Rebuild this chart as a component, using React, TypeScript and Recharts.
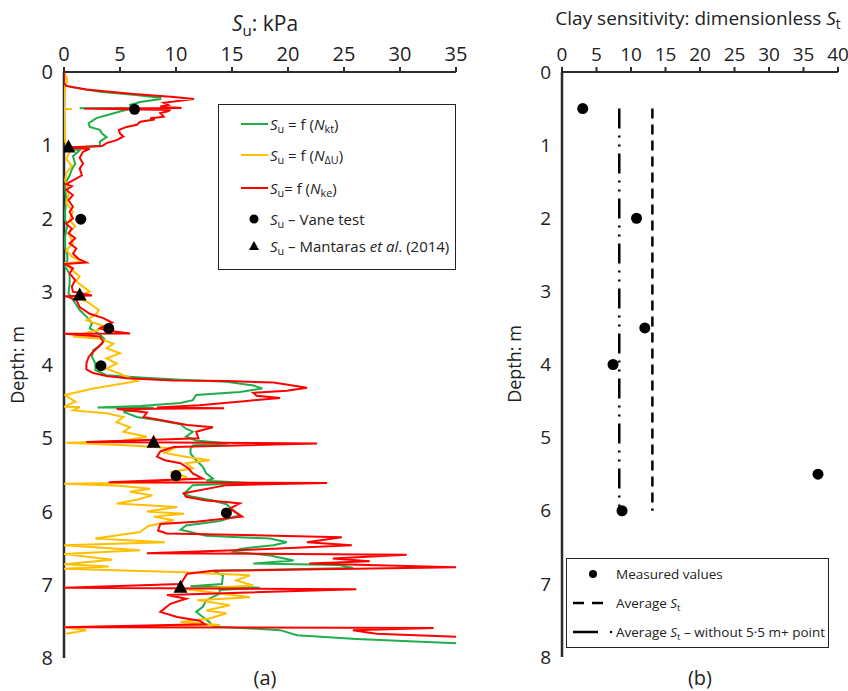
import React from 'react';
import { ScatterChart, Scatter, XAxis, YAxis } from 'recharts';

const FONT = "'Open Sans', 'Noto Sans', sans-serif";

// Profiles: [depth (m), Su (kPa)]
const suNkt: [number, number][] = [
  [0.18,0],[0.21,0.8],[0.27,3.2],[0.31,6.2],[0.35,8.6],[0.37,8.6],[0.41,6.8],[0.45,5.9],[0.49,6.0],[0.495,1.4],[0.5,6.0],[0.54,5.0],[0.59,3.8],[0.63,2.9],[0.7,2.2],[0.75,2.3],[0.79,3.2],[0.84,3.4],[0.89,3.8],[0.95,3.2],[1.01,3.2],[1.04,0.1],[1.07,1.4],[1.15,0.8],[1.25,1.0],[1.33,0.7],[1.41,0.5],[1.5,0.2],[1.57,0.1],[1.75,0.2],[1.9,0.1],[2.02,0.1],[2.1,0.3],[2.16,0.2],[2.25,0.1],[2.39,0.1],[2.5,0.3],[2.57,0.3],[2.66,0.1],[2.75,0.5],[2.89,0.5],[3.02,0.4],[3.11,0.8],[3.25,1.4],[3.34,2.0],[3.43,2.5],[3.5,2.3],[3.57,3.1],[3.64,3.6],[3.71,3.4],[3.8,2.6],[3.89,2.5],[3.98,2.8],[4.07,2.8],[4.14,3.8],[4.17,6.8],[4.2,10.4],[4.23,14.5],[4.28,16.9],[4.32,17.7],[4.37,15.7],[4.41,11.8],[4.48,11.5],[4.52,10.4],[4.56,6.8],[4.58,3.0],[4.585,8.0],[4.64,5.3],[4.71,6.5],[4.75,8.3],[4.81,10.4],[4.87,10.9],[4.91,11.5],[4.98,10.9],[5.03,11.8],[5.07,14.7],[5.1,11.5],[5.14,11.3],[5.21,11.3],[5.3,11.8],[5.39,12.4],[5.48,12.7],[5.55,13.3],[5.58,12.7],[5.61,16.6],[5.64,11.5],[5.76,10.7],[5.8,11.5],[5.85,13.3],[5.9,14.5],[5.98,15.1],[6.05,15.7],[6.13,13.9],[6.19,10.9],[6.25,10.4],[6.33,12.7],[6.37,18.4],[6.42,19.9],[6.46,18.7],[6.51,15.7],[6.55,15.1],[6.6,18.4],[6.67,20.5],[6.71,16.9],[6.73,24.6],[6.77,25.8],[6.81,13.3],[6.87,14.2],[6.99,14.1],[7.02,11.3],[7.04,17.5],[7.07,13.9],[7.12,13.9],[7.21,12.7],[7.3,12.4],[7.37,11.8],[7.44,12.4],[7.51,13.0],[7.57,13.3],[7.6,17.2],[7.62,19.3],[7.69,20.8],[7.74,26.1],[7.8,35],
];

const suNdu: [number, number][] = [
  [0.02,0],[0.06,0.2],[0.12,0.3],[0.2,0.1],[0.3,0.05],[0.45,0],[0.5,0],[0.505,0.7],[0.51,0],[0.7,0.05],[0.95,0.1],[1.05,0.4],[1.09,0.5],[1.19,0.2],[1.28,0.7],[1.38,0.2],[1.48,0.1],[1.58,0.3],[1.68,0.4],[1.79,0.2],[1.91,0.8],[2.02,0.5],[2.11,1.0],[2.2,0.4],[2.34,0.8],[2.43,0.2],[2.52,0.7],[2.59,1.7],[2.61,0.1],[2.7,0.7],[2.79,1.4],[2.86,1.1],[2.93,1.7],[3.0,2.3],[3.07,1.1],[3.16,2.3],[3.25,3.1],[3.3,2.9],[3.39,2.0],[3.46,3.4],[3.52,3.1],[3.61,0.8],[3.64,3.2],[3.71,4.4],[3.77,3.8],[3.84,5.0],[3.91,3.8],[3.98,4.7],[4.05,3.8],[4.12,5.0],[4.22,6.5],[4.32,2.6],[4.41,0.1],[4.5,1.0],[4.57,0],[4.575,1.4],[4.62,0.8],[4.66,3.8],[4.71,5.3],[4.78,4.7],[4.85,5.9],[4.91,5.3],[4.98,7.4],[5.04,5.0],[5.06,0.2],[5.1,6.0],[5.14,9.8],[5.2,9.0],[5.25,10.7],[5.3,13.0],[5.34,10.9],[5.41,11.5],[5.46,9.5],[5.53,10.9],[5.6,10.0],[5.62,0],[5.65,5.0],[5.69,7.7],[5.73,5.9],[5.78,7.9],[5.84,6.5],[5.89,4.7],[5.94,10.1],[6.0,7.4],[6.03,10.7],[6.07,8.0],[6.12,9.8],[6.2,7.5],[6.28,6.8],[6.37,2.8],[6.42,9.0],[6.46,0],[6.53,6.8],[6.58,0],[6.66,4.3],[6.72,0],[6.75,4.0],[6.78,0],[6.83,10.7],[6.87,16.6],[6.94,15.4],[7.01,16.9],[7.06,10.9],[7.12,14.0],[7.17,16.6],[7.21,11.9],[7.28,14.8],[7.35,12.7],[7.39,14.5],[7.46,13.0],[7.51,10.4],[7.55,13.9],[7.58,0],[7.62,2.0],[7.67,0.2],
];

const suNke: [number, number][] = [
  [0,0],[0.15,0],[0.19,0.2],[0.24,2.0],[0.3,6.2],[0.34,9.8],[0.37,11.6],[0.42,8.9],[0.45,9.3],[0.47,8.6],[0.49,10.5],[0.5,1.8],[0.52,9.5],[0.54,9.2],[0.56,8.6],[0.61,8.9],[0.63,7.7],[0.65,8.1],[0.68,6.8],[0.72,6.5],[0.75,5.6],[0.79,4.9],[0.84,5.0],[0.88,5.3],[0.93,4.7],[0.97,3.8],[1.01,3.4],[1.03,0.1],[1.05,2.3],[1.09,1.7],[1.17,1.4],[1.25,1.7],[1.32,1.4],[1.41,1.6],[1.48,0.8],[1.53,0.2],[1.56,0.7],[1.61,0.2],[1.68,0.8],[1.75,0.4],[1.84,0.8],[1.91,0.5],[2.0,0.8],[2.07,0.2],[2.14,0.7],[2.2,0.4],[2.27,1.0],[2.34,0.5],[2.41,1.1],[2.48,0.8],[2.55,1.3],[2.6,2.0],[2.62,0.1],[2.68,0.8],[2.75,0.5],[2.84,1.0],[2.93,0.7],[3.0,0.8],[3.05,2.5],[3.06,0.1],[3.11,1.1],[3.21,1.4],[3.3,2.3],[3.36,3.5],[3.42,4.3],[3.5,3.2],[3.53,3.8],[3.57,5.9],[3.575,0],[3.61,3.2],[3.68,3.5],[3.75,3.1],[3.82,2.6],[3.89,2.2],[3.98,2.0],[4.06,2.0],[4.11,2.6],[4.15,3.8],[4.18,5.6],[4.21,9.8],[4.22,14.5],[4.24,18.7],[4.31,21.7],[4.35,19.9],[4.38,16.9],[4.42,17.2],[4.45,19.3],[4.49,16.3],[4.55,12.1],[4.58,8.3],[4.59,14.3],[4.6,4.7],[4.65,7.4],[4.71,7.1],[4.75,8.6],[4.82,11.0],[4.85,13.3],[4.91,11.8],[5.0,12.0],[5.05,2.0],[5.07,22.6],[5.12,9.8],[5.18,8.6],[5.25,8.3],[5.3,9.0],[5.34,10.4],[5.41,11.1],[5.48,11.5],[5.55,12.4],[5.6,4.0],[5.61,23.5],[5.64,14.5],[5.75,10.7],[5.8,10.9],[5.85,12.7],[5.87,14.5],[5.89,15.7],[5.96,14.8],[6.07,15.9],[6.14,11.8],[6.17,8.6],[6.26,8.4],[6.3,9.2],[6.35,24.8],[6.42,21.7],[6.46,25.7],[6.51,18.7],[6.57,7.4],[6.59,30.6],[6.64,24.0],[6.68,27.3],[6.71,21.9],[6.76,35],[6.81,13.3],[6.85,11.0],[6.92,10.7],[6.99,10.4],[7.04,0],[7.06,26.1],[7.14,9.2],[7.19,10.9],[7.26,9.5],[7.37,8.6],[7.44,10.1],[7.49,12.1],[7.54,12.6],[7.58,0],[7.59,33.0],[7.62,25.8],[7.67,27.9],[7.71,35],
];

const vaneTest: [number, number][] = [[0.51,6.3],[2.01,1.5],[3.5,4.0],[4.01,3.3],[5.51,10.0],[6.02,14.5]];
const mantaras: [number, number][] = [[1.03,0.4],[3.05,1.4],[5.06,8.0],[7.04,10.4]];

const suTicks = [0, 5, 10, 15, 20, 25, 30, 35];
const depthTicks = [0, 1, 2, 3, 4, 5, 6, 7, 8];
const stTicks = [0, 5, 10, 15, 20, 25, 30, 35, 40];

// Sensitivity: [depth (m), St]
const measuredSt: [number, number][] = [[0.5,3.0],[2.0,10.8],[3.5,12.0],[4.0,7.4],[5.5,37.1],[6.0,8.7]];
const averageSt: [number, number][] = [[0.5,13.1],[6.0,13.1]];
const averageStWithout: [number, number][] = [[0.5,8.3],[6.0,8.3]];

const toPts = (arr: [number, number][]) => arr.map(([d, v]) => ({ d, v }));

const AX = '#2b2b2b';
const GREEN = '#1fae4b';
const ORANGE = '#ffbf00';
const RED = '#ff0000';

const NoShape = () => <g />;
const Dot = (p: any) => <circle cx={p.cx} cy={p.cy} r={5.5} fill="#000" />;
const Tri = (p: any) => (
  <polygon points={`${p.cx},${p.cy - 8} ${p.cx - 7},${p.cy + 5} ${p.cx + 7},${p.cy + 5}`} fill="#000" />
);

const tickStyle = { fontSize: 20, fill: '#222', fontFamily: FONT };

const Sub = ({ children }: { children: React.ReactNode }) => (
  <span style={{ fontSize: '0.72em', position: 'relative', top: '0.3em' }}>{children}</span>
);

const abs = (l: number, t: number, extra: any = {}) => ({ position: 'absolute' as const, left: l, top: t, ...extra });

export default function App() {
  return (
    <div style={{ position: 'absolute', left: 0, top: 0, width: 848, height: 691, background: '#fff', fontFamily: FONT, color: '#222', overflow: 'hidden' }}>
      <div style={abs(0, 0)}>
        <ScatterChart width={470} height={691} margin={{ top: 32, right: 14, bottom: 33, left: 24 }}>
          <XAxis type="number" dataKey="v" orientation="top" domain={[0, 35]} ticks={suTicks} allowDataOverflow
            height={40} tickSize={5} tickMargin={6} tick={tickStyle}
            axisLine={{ stroke: AX, strokeWidth: 2 }} tickLine={{ stroke: AX, strokeWidth: 2 }} />
          <YAxis type="number" dataKey="d" domain={[0, 8]} ticks={depthTicks} reversed allowDataOverflow
            width={40} tickSize={6} tickMargin={5} tick={tickStyle} tickLine={false}
            axisLine={{ stroke: AX, strokeWidth: 2.5 }} />
          <Scatter data={toPts(suNkt)} line={{ stroke: GREEN, strokeWidth: 2 }} shape={NoShape} isAnimationActive={false} />
          <Scatter data={toPts(suNdu)} line={{ stroke: ORANGE, strokeWidth: 2 }} shape={NoShape} isAnimationActive={false} />
          <Scatter data={toPts(suNke)} line={{ stroke: RED, strokeWidth: 2 }} shape={NoShape} isAnimationActive={false} />
          <Scatter data={toPts(vaneTest)} shape={Dot} isAnimationActive={false} />
          <Scatter data={toPts(mantaras)} shape={Tri} isAnimationActive={false} />
        </ScatterChart>
      </div>
      <div style={abs(470, 0)}>
        <ScatterChart width={378} height={691} margin={{ top: 32, right: 10, bottom: 34, left: 52 }}>
          <XAxis type="number" dataKey="v" orientation="top" domain={[0, 40]} ticks={stTicks}
            height={40} tickSize={5} tickMargin={6} tick={{ ...tickStyle, fontSize: 19 }}
            axisLine={{ stroke: AX, strokeWidth: 2 }} tickLine={{ stroke: AX, strokeWidth: 2 }} />
          <YAxis type="number" dataKey="d" domain={[0, 8]} ticks={depthTicks} reversed
            width={40} tickSize={6} tickMargin={5} tick={{ ...tickStyle, fontSize: 19 }} tickLine={false}
            axisLine={{ stroke: AX, strokeWidth: 2.5 }} />
          <Scatter data={toPts(averageSt)} line={{ stroke: '#000', strokeWidth: 2.5, strokeDasharray: '10 6' }} shape={NoShape} isAnimationActive={false} />
          <Scatter data={toPts(averageStWithout)} line={{ stroke: '#000', strokeWidth: 2.5, strokeDasharray: '20 7 2 7 2 7' }} shape={NoShape} isAnimationActive={false} />
          <Scatter data={toPts(measuredSt)} shape={Dot} isAnimationActive={false} />
        </ScatterChart>
      </div>

      {/* titles */}
      <div style={abs(165, 9, { width: 200, textAlign: 'center', fontSize: 21, lineHeight: '28px' })}>
        <i>S</i><Sub>u</Sub>: kPa
      </div>
      <div style={abs(548, 5, { width: 300, textAlign: 'center', fontSize: 19, lineHeight: '26px', whiteSpace: 'nowrap' })}>
        Clay sensitivity: dimensionless <i>S</i><Sub>t</Sub>
      </div>
      <div style={abs(215, 667, { width: 100, textAlign: 'center', fontSize: 20, lineHeight: '22px' })}>(a)</div>
      <div style={abs(650, 667, { width: 100, textAlign: 'center', fontSize: 20, lineHeight: '22px' })}>(b)</div>
      <div style={abs(17 - 60, 365 - 14, { width: 120, height: 28, transform: 'rotate(-90deg)', fontSize: 18, display: 'flex', alignItems: 'center', justifyContent: 'center' })}>Depth: m</div>
      <div style={abs(514 - 60, 364 - 14, { width: 120, height: 28, transform: 'rotate(-90deg)', fontSize: 18, display: 'flex', alignItems: 'center', justifyContent: 'center' })}>Depth: m</div>

      {/* left legend */}
      <div style={abs(218, 104, { width: 236, height: 164, border: '1.5px solid #222', background: '#fff', fontSize: 15 })}>
        {[
          { sym: 'line', c: GREEN, t: <><i>S</i><Sub>u</Sub> = f (<i>N</i><Sub>kt</Sub>)</>, y: 19 },
          { sym: 'line', c: ORANGE, t: <><i>S</i><Sub>u</Sub> = f (<i>N</i><Sub>ΔU</Sub>)</>, y: 50 },
          { sym: 'line', c: RED, t: <><i>S</i><Sub>u</Sub>= f (<i>N</i><Sub>ke</Sub>)</>, y: 83 },
          { sym: 'dot', c: '#000', t: <><i>S</i><Sub>u</Sub> – Vane test</>, y: 114 },
          { sym: 'tri', c: '#000', t: <><i>S</i><Sub>u</Sub> – Mantaras <i>et al</i>. (2014)</>, y: 141 },
        ].map((r, i) => (
          <div key={i} style={abs(0, r.y - 12, { height: 24, width: 236, display: 'flex', alignItems: 'center', whiteSpace: 'nowrap' })}>
            <svg width={50} height={24} style={{ flex: 'none' }}>
              {r.sym === 'line' && <line x1={22} x2={49} y1={12} y2={12} stroke={r.c} strokeWidth={2} />}
              {r.sym === 'dot' && <circle cx={35} cy={12} r={4.5} fill="#000" />}
              {r.sym === 'tri' && <polygon points="35,7 30,16 40,16" fill="#000" />}
            </svg>
            <span style={{ marginLeft: 1 }}>{r.t}</span>
          </div>
        ))}
      </div>

      {/* right legend */}
      <div style={abs(566, 558, { width: 261, height: 88, border: '1.5px solid #222', background: '#fff', fontSize: 13.5 })}>
        {[
          { sym: 'dot', t: <>Measured values</>, y: 15 },
          { sym: 'dash', t: <>Average <i>S</i><Sub>t</Sub></>, y: 44 },
          { sym: 'dashdot', t: <>Average <i>S</i><Sub>t</Sub> – without 5·5 m+ point</>, y: 73 },
        ].map((r, i) => (
          <div key={i} style={abs(0, r.y - 12, { height: 24, width: 261, display: 'flex', alignItems: 'center', whiteSpace: 'nowrap' })}>
            <svg width={49} height={24} style={{ flex: 'none' }}>
              {r.sym === 'dot' && <circle cx={26} cy={12} r={4} fill="#000" />}
              {r.sym === 'dash' && <line x1={6} x2={36} y1={12} y2={12} stroke="#000" strokeWidth={2.5} strokeDasharray="11 8" />}
              {r.sym === 'dashdot' && <>
                <line x1={6} x2={31} y1={12} y2={12} stroke="#000" strokeWidth={2.5} />
                <circle cx={44} cy={12} r={1.2} fill="#000" />
              </>}
            </svg>
            <span>{r.t}</span>
          </div>
        ))}
      </div>
    </div>
  );
}
